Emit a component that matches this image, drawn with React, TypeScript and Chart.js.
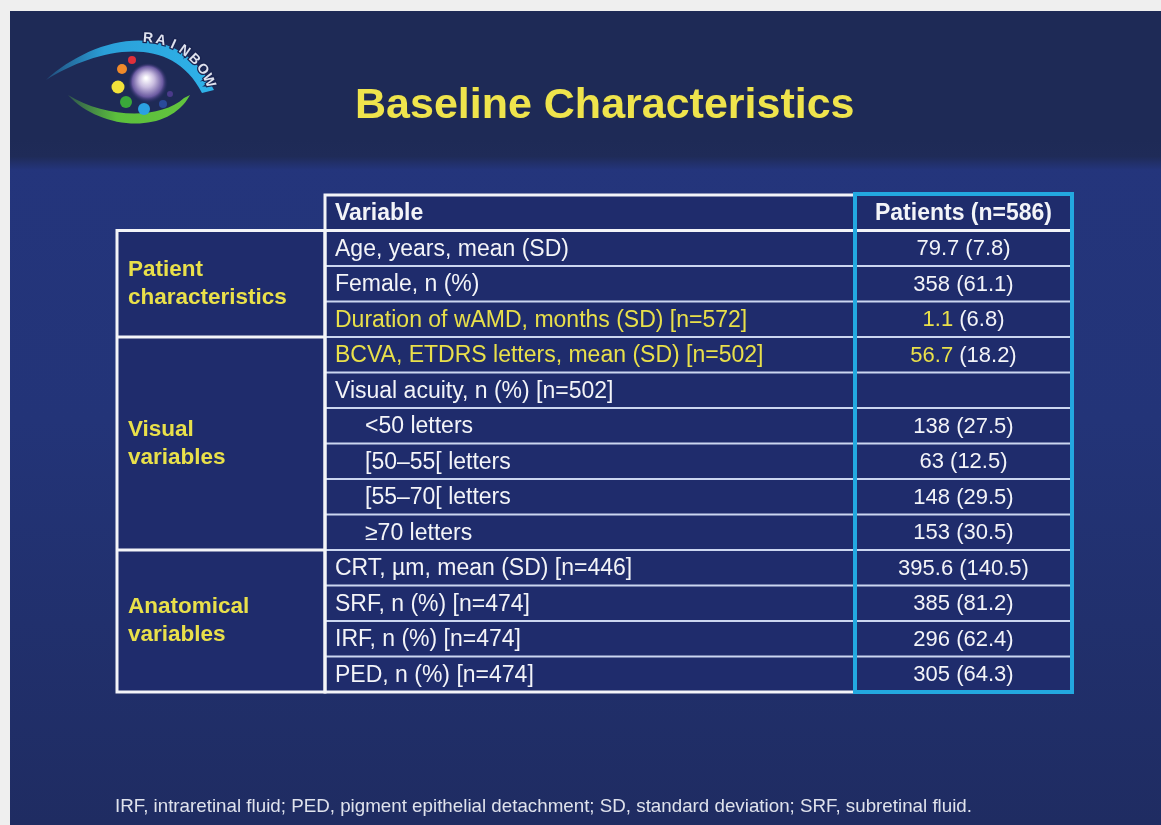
import React, { useEffect, useRef } from "react";
import { Chart, registerables } from "chart.js";

Chart.register(...registerables);

// ---------- data ----------
const title = "Baseline Characteristics";
const logoWord = "RAINBOW";
const columnHeaders = ["Variable", "Patients (n=586)"];
const groupNames = [
  ["Patient", "characteristics"],
  ["Visual", "variables"],
  ["Anatomical", "variables"],
];
const groupSpans = [3, 6, 4];
const variables = [
  "Age, years, mean (SD)",
  "Female, n (%)",
  "Duration of wAMD, months (SD) [n=572]",
  "BCVA, ETDRS letters, mean (SD) [n=502]",
  "Visual acuity, n (%) [n=502]",
  "<50 letters",
  "[50–55[ letters",
  "[55–70[ letters",
  "≥70 letters",
  "CRT, µm, mean (SD) [n=446]",
  "SRF, n (%) [n=474]",
  "IRF, n (%) [n=474]",
  "PED, n (%) [n=474]",
];
const indented = [false, false, false, false, false, true, true, true, true, false, false, false, false];
const highlighted = [false, false, true, true, false, false, false, false, false, false, false, false, false];
const valueMain = ["79.7", "358", "1.1", "56.7", "", "138", "63", "148", "153", "395.6", "385", "296", "305"];
const valueSpread = ["7.8", "61.1", "6.8", "18.2", "", "27.5", "12.5", "29.5", "30.5", "140.5", "81.2", "62.4", "64.3"];
const footnote =
  "IRF, intraretinal fluid; PED, pigment epithelial detachment; SD, standard deviation; SRF, subretinal fluid.";

// ---------- style ----------
const FONT = '"Liberation Sans", Arial, sans-serif';
const WHITE = "#f3f4f8";
const YELLOW = "#e9e04a";
const CYAN = "#23a8e0";
const colWidths = [208, 530, 217];

function drawLogo(ctx: CanvasRenderingContext2D) {
  ctx.save();
  // blue upper arc
  const g1 = ctx.createLinearGradient(45, 0, 215, 0);
  g1.addColorStop(0, "rgba(41,169,225,0.25)");
  g1.addColorStop(0.35, "#2a9fd8");
  g1.addColorStop(1, "#2fb3ea");
  ctx.fillStyle = g1;
  ctx.beginPath();
  ctx.moveTo(46, 80);
  ctx.bezierCurveTo(92, 38, 176, 14, 214, 90);
  ctx.lineTo(202, 93);
  ctx.bezierCurveTo(170, 30, 94, 50, 46, 80);
  ctx.closePath();
  ctx.fill();
  // green lower arc
  const g2 = ctx.createLinearGradient(68, 0, 190, 0);
  g2.addColorStop(0, "rgba(90,190,60,0.3)");
  g2.addColorStop(0.4, "#5cc03c");
  g2.addColorStop(1, "#62c43e");
  ctx.fillStyle = g2;
  ctx.beginPath();
  ctx.moveTo(68, 95);
  ctx.bezierCurveTo(100, 130, 168, 136, 190, 95);
  ctx.lineTo(184, 98);
  ctx.bezierCurveTo(160, 120, 105, 118, 68, 95);
  ctx.closePath();
  ctx.fill();
  // sphere
  const rg = ctx.createRadialGradient(146, 78, 1, 148, 83, 20);
  rg.addColorStop(0, "#ffffff");
  rg.addColorStop(0.35, "#c9bde0");
  rg.addColorStop(0.75, "#6a5aa0");
  rg.addColorStop(1, "rgba(40,40,100,0)");
  ctx.fillStyle = rg;
  ctx.beginPath();
  ctx.arc(148, 83, 20, 0, Math.PI * 2);
  ctx.fill();
  // dots
  const dots: [number, number, number, string][] = [
    [132, 60, 4, "#e0303a"],
    [122, 69, 5, "#f08a2a"],
    [118, 87, 6.5, "#f2e23a"],
    [126, 102, 6, "#3aa83a"],
    [144, 109, 6, "#2ba0e0"],
    [163, 104, 4, "#2a4a9a"],
    [170, 94, 3, "#4a3a8a"],
  ];
  dots.forEach(([x, y, r, c]) => {
    ctx.fillStyle = c;
    ctx.beginPath();
    ctx.arc(x, y, r, 0, Math.PI * 2);
    ctx.fill();
  });
  // word along arc
  const cx = 143, cy = 110, rad = 72;
  const a0 = (-86 * Math.PI) / 180, a1 = (-24 * Math.PI) / 180;
  ctx.font = `bold 14px ${FONT}`;
  ctx.textAlign = "center";
  ctx.textBaseline = "middle";
  for (let i = 0; i < logoWord.length; i++) {
    const a = a0 + ((a1 - a0) * i) / (logoWord.length - 1);
    ctx.save();
    ctx.translate(cx + rad * Math.cos(a), cy + rad * Math.sin(a));
    ctx.rotate(a + Math.PI / 2);
    ctx.lineWidth = 2.5;
    ctx.strokeStyle = "#1a2450";
    ctx.strokeText(logoWord[i], 0, 0);
    ctx.fillStyle = "#dfe2ee";
    ctx.fillText(logoWord[i], 0, 0);
    ctx.restore();
  }
  ctx.restore();
}

const slidePlugin = {
  id: "slide",
  beforeDraw(chart: any) {
    const ctx: CanvasRenderingContext2D = chart.ctx;
    const W = chart.width, H = chart.height;
    ctx.save();
    ctx.fillStyle = "#efefef";
    ctx.fillRect(0, 0, W, H);
    // body
    const bg = ctx.createLinearGradient(0, 150, 0, H);
    bg.addColorStop(0, "#24357c");
    bg.addColorStop(0.4, "#233478");
    bg.addColorStop(1, "#1f2c62");
    ctx.fillStyle = bg;
    ctx.fillRect(10, 11, W - 10, H - 11);
    // header
    ctx.fillStyle = "#1e2a56";
    ctx.fillRect(10, 11, W - 10, 140);
    const tb = ctx.createLinearGradient(0, 140, 0, 170);
    tb.addColorStop(0, "#1e2a56");
    tb.addColorStop(0.55, "#1f2b58");
    tb.addColorStop(1, "#24357c");
    ctx.fillStyle = tb;
    ctx.fillRect(10, 140, W - 10, 30);
    drawLogo(ctx);
    // title
    ctx.font = `bold 43px ${FONT}`;
    ctx.fillStyle = "#efe44c";
    ctx.textAlign = "left";
    ctx.textBaseline = "alphabetic";
    ctx.fillText(title, 355, 118);
    // footnote
    ctx.font = `19px ${FONT}`;
    const fw = ctx.measureText(footnote).width;
    ctx.save();
    ctx.translate(115, 812);
    ctx.scale(857 / fw, 1);
    ctx.fillStyle = "#dfe2ec";
    ctx.fillText(footnote, 0, 0);
    ctx.restore();
    ctx.restore();
  },
  afterDraw(chart: any) {
    const ctx: CanvasRenderingContext2D = chart.ctx;
    const ys = chart.scales.y;
    const area = chart.chartArea;
    const n = variables.length + 1;
    const centers: number[] = [];
    for (let i = 0; i < n; i++) centers.push(ys.getPixelForValue(i));
    const half = Math.abs(centers[1] - centers[0]) / 2;
    const top = (i: number) => centers[i] - half;
    const bottom = (i: number) => centers[i] + half;
    const x0 = area.left;
    const x1 = x0 + colWidths[0];
    const x2 = x1 + colWidths[1];
    const x3 = x2 + colWidths[2];
    const yHead = top(0);
    const yBody = bottom(0);
    const yEnd = bottom(n - 1);

    ctx.save();
    // cell fills
    ctx.fillStyle = "#1f2c6c";
    ctx.fillRect(x0, yBody, colWidths[0], yEnd - yBody);
    ctx.fillRect(x1, yHead, x3 - x1, yEnd - yHead);

    // inner row lines
    ctx.strokeStyle = "#cbd6f0";
    ctx.lineWidth = 2;
    for (let i = 1; i < n - 1; i++) {
      const y = bottom(i);
      ctx.beginPath();
      ctx.moveTo(x1, y);
      ctx.lineTo(x3, y);
      ctx.stroke();
    }

    // white borders
    ctx.strokeStyle = WHITE;
    ctx.lineWidth = 3;
    ctx.strokeRect(x0, yBody, colWidths[0], yEnd - yBody);
    ctx.strokeRect(x1, yHead, colWidths[1], yEnd - yHead);
    ctx.beginPath();
    ctx.moveTo(x1, yBody);
    ctx.lineTo(x3, yBody);
    ctx.stroke();
    let r = 1;
    const groupRanges: [number, number][] = [];
    groupSpans.forEach((s) => {
      groupRanges.push([r, r + s - 1]);
      r += s;
    });
    groupRanges.slice(1).forEach(([a]) => {
      ctx.beginPath();
      ctx.moveTo(x0, top(a));
      ctx.lineTo(x1, top(a));
      ctx.stroke();
    });
    // cyan column border
    ctx.strokeStyle = CYAN;
    ctx.lineWidth = 4;
    ctx.strokeRect(x2, yHead - 1, colWidths[2], yEnd - yHead + 1);

    // header text
    ctx.textBaseline = "middle";
    ctx.font = `bold 23px ${FONT}`;
    ctx.fillStyle = WHITE;
    ctx.textAlign = "left";
    ctx.fillText(columnHeaders[0], x1 + 10, centers[0] + 1);
    ctx.textAlign = "center";
    ctx.fillText(columnHeaders[1], (x2 + x3) / 2, centers[0] + 1);

    // group labels
    ctx.font = `bold 22.5px ${FONT}`;
    ctx.fillStyle = YELLOW;
    ctx.textAlign = "left";
    groupRanges.forEach(([a, b], gi) => {
      const mid = (top(a) + bottom(b)) / 2;
      const lines = groupNames[gi];
      const lh = 28;
      lines.forEach((ln, li) => {
        ctx.fillText(ln, x0 + 11, mid + (li - (lines.length - 1) / 2) * lh);
      });
    });

    // variable rows
    variables.forEach((v, i) => {
      const row = i + 1;
      const cy = centers[row] + 1;
      ctx.font = `23px ${FONT}`;
      ctx.textAlign = "left";
      ctx.fillStyle = highlighted[i] ? YELLOW : WHITE;
      ctx.fillText(v, x1 + (indented[i] ? 40 : 10), cy);
      if (valueMain[i]) {
        ctx.font = `22px ${FONT}`;
        const a = valueMain[i];
        const b = ` (${valueSpread[i]})`;
        const wa = ctx.measureText(a).width;
        const wb = ctx.measureText(b).width;
        const sx = (x2 + x3) / 2 - (wa + wb) / 2;
        ctx.fillStyle = highlighted[i] ? YELLOW : WHITE;
        ctx.fillText(a, sx, cy);
        ctx.fillStyle = WHITE;
        ctx.fillText(b, sx + wa, cy);
      }
    });
    ctx.restore();
  },
};

export default function App() {
  const ref = useRef<HTMLCanvasElement | null>(null);
  useEffect(() => {
    document.body.style.margin = "0";
    const canvas = ref.current;
    if (!canvas) return;
    const labels = [columnHeaders[0], ...variables];
    const chart = new Chart(canvas, {
      type: "bar",
      data: {
        labels,
        datasets: [{ data: labels.map(() => null), backgroundColor: "transparent" }],
      },
      options: {
        animation: false,
        responsive: false,
        devicePixelRatio: 1,
        indexAxis: "y",
        layout: { padding: { left: 117, right: 89, top: 195, bottom: 133 } },
        plugins: { legend: { display: false }, tooltip: { enabled: false }, title: { display: false } },
        scales: {
          y: { type: "category", display: false, offset: true, min: 0, max: labels.length - 1 },
          x: { display: false, min: 0, max: 1 },
        },
      },
      plugins: [slidePlugin],
    } as any);
    return () => chart.destroy();
  }, []);
  return (
    <div style={{ width: 1161, height: 825 }}>
      <canvas ref={ref} width={1161} height={825} style={{ display: "block", width: 1161, height: 825 }} />
    </div>
  );
}
